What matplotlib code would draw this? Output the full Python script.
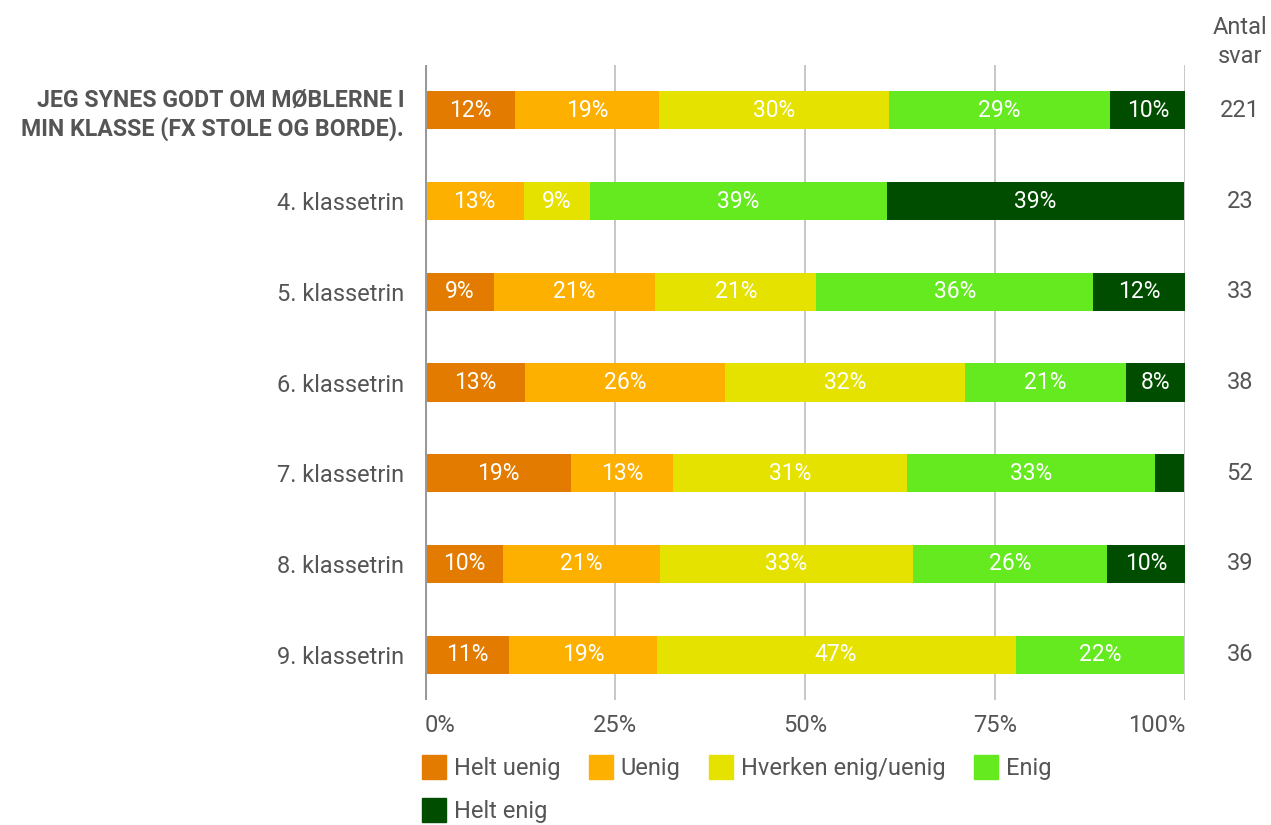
import numpy as np
import matplotlib.pyplot as plt
from matplotlib.lines import Line2D

plt.rcParams['font.family'] = ['Roboto', 'DejaVu Sans']

rows = ['JEG SYNES GODT OM MØBLERNE I\nMIN KLASSE (FX STOLE OG BORDE).',
        '4. klassetrin', '5. klassetrin', '6. klassetrin',
        '7. klassetrin', '8. klassetrin', '9. klassetrin']
counts = [221, 23, 33, 38, 52, 39, 36]

categories = ['Helt uenig', 'Uenig', 'Hverken enig/uenig', 'Enig', 'Helt enig']
colors = ['#E37B00', '#FDB000', '#E6E200', '#64EA1E', '#004D00']

helt_uenig = [11.8, 0.0, 9.1, 13.2, 19.2, 10.3, 11.1]
uenig = [19.0, 13.0, 21.2, 26.3, 13.4, 20.6, 19.4]
hverken = [30.3, 8.7, 21.2, 31.6, 30.8, 33.3, 47.2]
enig = [29.0, 39.1, 36.4, 21.1, 32.7, 25.6, 22.2]
helt_enig = [10.0, 39.1, 12.1, 7.9, 3.8, 10.3, 0.0]

series = [helt_uenig, uenig, hverken, enig, helt_enig]

text_col = '#555555'

fig = plt.figure(figsize=(12.71, 8.25), dpi=100)
ax = fig.add_axes([425 / 1271, 1 - 700 / 825, 760 / 1271, 635 / 825])

y = np.arange(len(rows))
left = np.zeros(len(rows))
for vals, col in zip(series, colors):
    vals = np.array(vals)
    ax.barh(y, vals, left=left, height=0.42, color=col, zorder=3)
    for yi, (l, v) in enumerate(zip(left, vals)):
        if v >= 5:
            ax.text(l + v / 2, yi, f'{v:.0f}%', ha='center', va='center',
                    color='white', fontsize=16.5, zorder=4)
    left += vals

ax.set_xlim(0, 100)
ax.set_ylim(6.5, -0.5)

for s in ax.spines.values():
    s.set_visible(False)
for xv in [25, 50, 75, 100]:
    ax.axvline(xv, color='#BDBDBD', lw=1.2, zorder=1)
ax.axvline(0, color='#999999', lw=2.2, zorder=5)

ax.set_xticks([0, 25, 50, 75, 100])
ax.set_xticklabels(['0%', '25%', '50%', '75%', '100%'], fontsize=17, color=text_col)
ax.get_xticklabels()[0].set_ha('left')
ax.get_xticklabels()[-1].set_ha('right')
ax.tick_params(axis='x', length=0, pad=10)

ax.set_yticks(y)
ax.set_yticklabels(rows, fontsize=17, color=text_col)
ax.get_yticklabels()[0].set_fontweight('bold')
ax.get_yticklabels()[0].set_fontsize(16.7)
ax.tick_params(axis='y', length=0, pad=15)

# count column to the right of the bars
trans = ax.get_yaxis_transform()
for yi, c in zip(y, counts):
    ax.text((1240 - 425) / 760, yi, str(c), transform=trans,
            ha='center', va='center', fontsize=17, color=text_col, clip_on=False)

fig.text(1240 / 1271, 1 - 42 / 825, 'Antal\nsvar', ha='center', va='center',
         fontsize=17, color=text_col, linespacing=1.35)

handles = [Line2D([], [], marker='s', linestyle='none', markersize=17,
                  markerfacecolor=c, markeredgecolor=c) for c in colors]
order = [0, 4, 1, 2, 3]
leg = fig.legend([handles[i] for i in order], [categories[i] for i in order],
                 ncol=4, loc='upper left', bbox_to_anchor=(421 / 1271, 1 - 757 / 825),
                 frameon=False, fontsize=17, handletextpad=0.3, columnspacing=1.15,
                 labelspacing=0.85, handlelength=1.1, borderaxespad=0, borderpad=0)
for t in leg.get_texts():
    t.set_color(text_col)

fig.savefig('out.png', dpi=100)
